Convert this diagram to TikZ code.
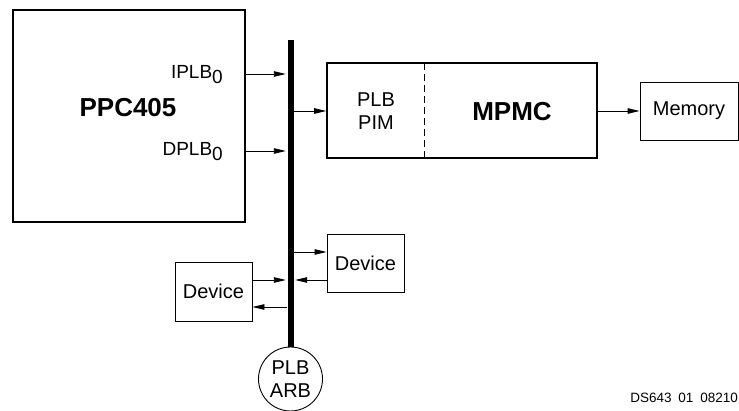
\documentclass[tikz,border=0pt]{standalone}
\usepackage{fontspec}
\setmainfont{Liberation Sans}
\usetikzlibrary{arrows.meta,calc}
\newcommand{\lowzero}{\raisebox{-5pt}{0}}
\begin{document}
\begin{tikzpicture}[x=1pt,y=-1pt,
  thickbox/.style={draw,line width=1.6pt,inner sep=0pt},
  thinbox/.style={draw,line width=0.9pt,inner sep=0pt,font=\fontsize{20}{24}\selectfont},
  lbl/.style={inner sep=0pt,font=\fontsize{20}{24}\selectfont},
  arr/.style={line width=0.9pt,-{Triangle[length=12pt,width=5.5pt]}}]
\useasboundingbox (0,0) rectangle (739,411);
% main blocks
\node[thickbox,minimum width=232pt,minimum height=212pt] (ppc) at (129,116) {};
\node[inner sep=0pt,font=\fontsize{26}{30}\selectfont\bfseries] (ppct) at (128,108) {PPC405};
\node[inner sep=0pt,anchor=base east,font=\fontsize{19}{22}\selectfont] (iplb) at (223,79) {IPLB\lowzero};
\node[inner sep=0pt,anchor=base east,font=\fontsize{19}{22}\selectfont] (dplb) at (223,156) {DPLB\lowzero};
% bus
\node[fill=black,inner sep=0pt,minimum width=6pt,minimum height=307pt] (bus) at (290.5,193.5) {};
% MPMC
\node[thickbox,minimum width=270pt,minimum height=95pt] (mpmc) at (462,110.5) {};
\coordinate (dtop) at (424,63);
\coordinate (dbot) at (424,158);
\draw[line width=0.9pt,dash pattern=on 7pt off 4pt] (dtop) -- (dbot);
\node[lbl,align=center] (pim) at (376,111) {PLB\\[-1pt]PIM};
\node[inner sep=0pt,font=\fontsize{26}{30}\selectfont\bfseries] (mpmct) at (512,112) {MPMC};
\node[thinbox,minimum width=98pt,minimum height=58pt] (mem) at (689,111) {Memory};
% devices
\node[thinbox,minimum width=77pt,minimum height=58pt] (dev1) at (365.5,263) {Device};
\node[thinbox,minimum width=77pt,minimum height=59pt] (dev2) at (213.5,291.5) {Device};
% arbiter
\node[draw,circle,line width=0.9pt,minimum size=64pt,inner sep=0pt,align=center,font=\fontsize{20}{24}\selectfont] (arb) at (290.5,379) {PLB\\[-1pt]ARB};
% connector heights
\coordinate (yi) at (0,74);
\coordinate (yd) at (0,151);
\coordinate (yp) at (0,111);
\coordinate (y1) at (0,252);
\coordinate (y2) at (0,280);
\coordinate (y3) at (0,307);
% connectors
\draw[arr] (ppc.east |- yi) -- ([xshift=-1.5pt]bus.west |- yi);
\draw[arr] (ppc.east |- yd) -- ([xshift=-1.5pt]bus.west |- yd);
\draw[arr] (bus.east |- yp) -- (mpmc.west |- yp);
\draw[arr] (mpmc.east |- yp) -- (mem.west |- yp);
\draw[arr] (bus.east |- y1) -- (dev1.west |- y1);
\draw[arr] (dev1.west |- y2) -- ([xshift=1.5pt]bus.east |- y2);
\draw[arr] (dev2.east |- y2) -- ([xshift=-1.5pt]bus.west |- y2);
\draw[arr] (bus.west |- y3) -- (dev2.east |- y3);
% footer
\node[inner sep=0pt,anchor=east,font=\fontsize{13.5}{15}\selectfont] (foot) at (738,398) {DS643\hspace{0.5em}01\hspace{0.5em}08210};
\end{tikzpicture}
\end{document}
